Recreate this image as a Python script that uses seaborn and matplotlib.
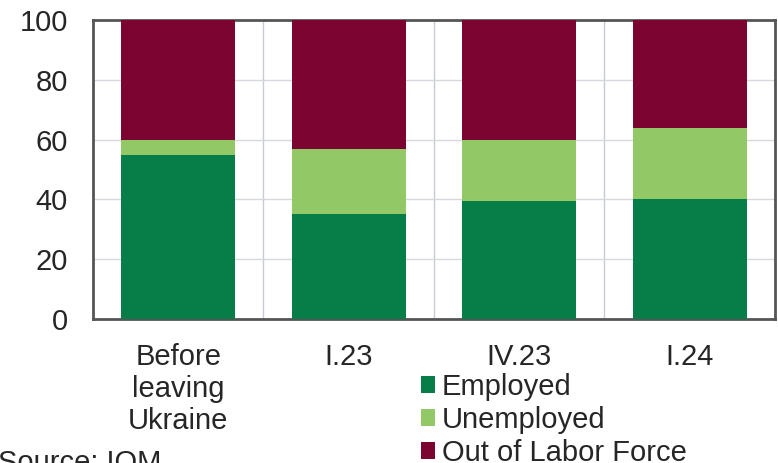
import matplotlib
matplotlib.use("Agg")
import matplotlib.pyplot as plt
import seaborn as sns
import pandas as pd
import numpy as np
from matplotlib.patches import Patch

categories = ["Before\nleaving\nUkraine", "I.23", "IV.23", "I.24"]
employed = [55, 35, 39.3, 40.2]
unemployed = [5, 22, 20.7, 23.6]
out_of_labor = [40, 43, 40, 36.2]
series_names = ["Employed", "Unemployed", "Out of Labor Force"]
colors = ["#077d48", "#92c865", "#7b0430"]

sns.set_style("white")
plt.rcParams["font.family"] = ["Liberation Sans", "DejaVu Sans"]
FS = 21

df = pd.DataFrame({
    "cat": categories,
    "emp": employed,
    "unemp": unemployed,
    "out": out_of_labor,
})
df["top2"] = df["emp"] + df["unemp"]
df["top3"] = df["top2"] + df["out"]

fig = plt.figure(figsize=(7.78, 4.63), dpi=100)
ax = fig.add_axes([0.1195, 0.311, 0.8765, 0.646])

for col, c in zip(["top3", "top2", "emp"], [colors[2], colors[1], colors[0]]):
    sns.barplot(data=df, x="cat", y=col, color=c, width=0.67, ax=ax,
                saturation=1, edgecolor="none", linewidth=0, zorder=3)

ax.set_xlim(-0.5, 3.5)
ax.set_ylim(0, 100)
ax.set_yticks([0, 20, 40, 60, 80, 100])
ax.set_xlabel("")
ax.set_ylabel("")
ax.set_xticks([0.5, 1.5, 2.5], minor=True)
ax.tick_params(axis="x", which="major", length=0, pad=17, labelsize=FS)
ax.tick_params(axis="x", which="minor", length=7, width=1.5, direction="in",
               color="#555555")
ax.tick_params(axis="y", length=0, pad=18, labelsize=FS)
ax.set_axisbelow(True)
ax.yaxis.grid(True, color="#d5d8dc", linewidth=1, zorder=0)
ax.xaxis.grid(True, which="minor", color="#c8ccd2", linewidth=1, zorder=0)
ax.xaxis.grid(False, which="major")
for s in ax.spines.values():
    s.set_color("#555555")
    s.set_linewidth(2)
    s.set_visible(True)
for lab in ax.get_xticklabels():
    lab.set_linespacing(1.2)

handles = [Patch(facecolor=c, edgecolor="none") for c in colors]
fig.legend(handles, series_names, loc="upper left",
           bbox_to_anchor=(0.541, 0.195), frameon=False, fontsize=FS,
           handlelength=0.5, handleheight=0.55, handletextpad=0.22,
           labelspacing=0.17, borderaxespad=0, borderpad=0)

fig.text(-0.003, -0.03, "Source: IOM", fontsize=FS, ha="left", va="bottom")

fig.savefig("out.png", dpi=100)
